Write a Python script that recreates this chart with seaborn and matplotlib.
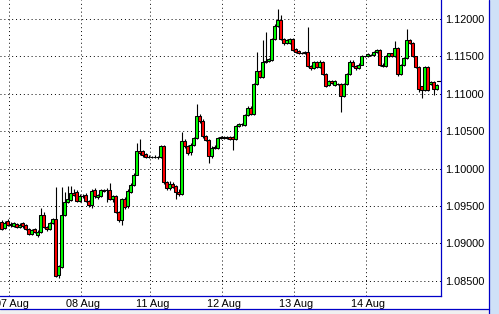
import numpy as np
import pandas as pd
import seaborn as sns
import matplotlib
matplotlib.use("Agg")
import matplotlib.pyplot as plt
from matplotlib.lines import Line2D
from matplotlib.patches import Rectangle

# ---------------- data (hourly candles) ----------------
opens = [
    1.0929, 1.0921, 1.0930, 1.0926, 1.0923, 1.0926, 1.0922, 1.0927, 1.0925, 1.0919,
    1.0913, 1.0919, 1.0911, 1.0915, 1.0938, 1.0922, 1.0919, 1.0927, 1.0933, 1.0858,
    1.0868, 1.0938, 1.0955, 1.0958, 1.0968, 1.0969, 1.0957, 1.0963, 1.0965, 1.0957,
    1.0951, 1.0971, 1.0962, 1.0963, 1.0971, 1.0971, 1.0971, 1.0959, 1.0963, 1.0942,
    1.0931, 1.0959, 1.0950, 1.0969, 1.0978, 1.0992, 1.1023, 1.1023, 1.1019, 1.1016,
    1.1016, 1.1015, 1.1016, 1.1015, 1.1030, 1.0982, 1.0974, 1.0979, 1.0977, 1.0969,
    1.0966, 1.1037, 1.1030, 1.1022, 1.1031, 1.1041, 1.1070, 1.1064, 1.1044, 1.1038,
    1.1017, 1.1028, 1.1028, 1.1041, 1.1042, 1.1041, 1.1042, 1.1042, 1.1039, 1.1057,
    1.1059, 1.1058, 1.1072, 1.1081, 1.1073, 1.1113, 1.1130, 1.1123, 1.1142, 1.1144,
    1.1145, 1.1173, 1.1190, 1.1198, 1.1173, 1.1168, 1.1168, 1.1173, 1.1160, 1.1157,
    1.1155, 1.1154, 1.1156, 1.1137, 1.1135, 1.1142, 1.1136, 1.1143, 1.1126, 1.1112,
    1.1117, 1.1112, 1.1113, 1.1113, 1.1097, 1.1113, 1.1126, 1.1143, 1.1137, 1.1134,
    1.1139, 1.1150, 1.1150, 1.1152, 1.1152, 1.1156, 1.1159, 1.1139, 1.1137, 1.1151,
    1.1154, 1.1150, 1.1161, 1.1126, 1.1139, 1.1148, 1.1172, 1.1168, 1.1150, 1.1136,
    1.1110, 1.1105, 1.1136, 1.1113, 1.1116, 1.1106,
]
highs = [
    1.0931, 1.0930, 1.0933, 1.0929, 1.0929, 1.0927, 1.0927, 1.0929, 1.0926, 1.0921,
    1.0919, 1.0921, 1.0918, 1.0947, 1.0942, 1.0923, 1.0929, 1.0934, 1.0975, 1.0871,
    1.0975, 1.0969, 1.0977, 1.0977, 1.0973, 1.0971, 1.0966, 1.0966, 1.0967, 1.0958,
    1.0973, 1.0974, 1.0966, 1.0973, 1.0973, 1.0974, 1.0981, 1.0965, 1.0965, 1.0943,
    1.0961, 1.0962, 1.0973, 1.0981, 1.0994, 1.1034, 1.1039, 1.1025, 1.1021, 1.1018,
    1.1017, 1.1018, 1.1017, 1.1031, 1.1031, 1.0983, 1.0983, 1.0982, 1.0978, 1.0973,
    1.1049, 1.1040, 1.1031, 1.1034, 1.1042, 1.1086, 1.1073, 1.1066, 1.1045, 1.1040,
    1.1030, 1.1031, 1.1042, 1.1044, 1.1043, 1.1044, 1.1044, 1.1044, 1.1058, 1.1061,
    1.1061, 1.1073, 1.1084, 1.1084, 1.1114, 1.1156, 1.1132, 1.1172, 1.1182, 1.1148,
    1.1175, 1.1193, 1.1213, 1.1205, 1.1175, 1.1173, 1.1175, 1.1175, 1.1161, 1.1159,
    1.1156, 1.1157, 1.1189, 1.1139, 1.1144, 1.1144, 1.1145, 1.1144, 1.1128, 1.1118,
    1.1118, 1.1118, 1.1114, 1.1114, 1.1114, 1.1128, 1.1145, 1.1145, 1.1139, 1.1141,
    1.1152, 1.1151, 1.1154, 1.1153, 1.1157, 1.1160, 1.1160, 1.1141, 1.1152, 1.1155,
    1.1155, 1.1170, 1.1162, 1.1140, 1.1149, 1.1186, 1.1173, 1.1169, 1.1151, 1.1137,
    1.1110, 1.1137, 1.1137, 1.1117, 1.1117, 1.1113,
]
lows = [
    1.0918, 1.0919, 1.0923, 1.0922, 1.0922, 1.0921, 1.0921, 1.0921, 1.0918, 1.0911,
    1.0911, 1.0914, 1.0909, 1.0914, 1.0921, 1.0917, 1.0918, 1.0926, 1.0855, 1.0854,
    1.0867, 1.0937, 1.0954, 1.0957, 1.0963, 1.0955, 1.0955, 1.0961, 1.0955, 1.0949,
    1.0948, 1.0961, 1.0959, 1.0962, 1.0969, 1.0956, 1.0958, 1.0955, 1.0941, 1.0929,
    1.0925, 1.0946, 1.0947, 1.0968, 1.0977, 1.0991, 1.1018, 1.1016, 1.1014, 1.1014,
    1.1014, 1.1014, 1.1013, 1.1014, 1.0980, 1.0971, 1.0971, 1.0974, 1.0959, 1.0963,
    1.0965, 1.1028, 1.1018, 1.1018, 1.1030, 1.1040, 1.1061, 1.1041, 1.1037, 1.1008,
    1.1014, 1.1026, 1.1026, 1.1040, 1.1040, 1.1040, 1.1038, 1.1025, 1.1038, 1.1056,
    1.1057, 1.1057, 1.1070, 1.1072, 1.1072, 1.1112, 1.1121, 1.1121, 1.1141, 1.1143,
    1.1144, 1.1172, 1.1189, 1.1172, 1.1165, 1.1167, 1.1167, 1.1157, 1.1155, 1.1153,
    1.1153, 1.1153, 1.1136, 1.1132, 1.1133, 1.1135, 1.1135, 1.1125, 1.1109, 1.1110,
    1.1113, 1.1110, 1.1112, 1.1076, 1.1096, 1.1112, 1.1125, 1.1136, 1.1132, 1.1133,
    1.1139, 1.1149, 1.1149, 1.1151, 1.1151, 1.1155, 1.1137, 1.1136, 1.1136, 1.1149,
    1.1149, 1.1149, 1.1124, 1.1125, 1.1137, 1.1147, 1.1167, 1.1149, 1.1135, 1.1103,
    1.1094, 1.1104, 1.1104, 1.1112, 1.1098, 1.1105,
]
closes = [
    1.0919, 1.0927, 1.0925, 1.0925, 1.0927, 1.0922, 1.0925, 1.0923, 1.0919, 1.0913,
    1.0918, 1.0915, 1.0915, 1.0938, 1.0922, 1.0919, 1.0927, 1.0933, 1.0856, 1.0870,
    1.0938, 1.0955, 1.0959, 1.0968, 1.0965, 1.0957, 1.0963, 1.0964, 1.0957, 1.0951,
    1.0970, 1.0963, 1.0965, 1.0971, 1.0970, 1.0971, 1.0959, 1.0963, 1.0942, 1.0931,
    1.0959, 1.0949, 1.0970, 1.0978, 1.0992, 1.1023, 1.1021, 1.1018, 1.1016, 1.1016,
    1.1015, 1.1016, 1.1015, 1.1030, 1.0982, 1.0974, 1.0979, 1.0976, 1.0969, 1.0966,
    1.1037, 1.1030, 1.1021, 1.1031, 1.1041, 1.1070, 1.1063, 1.1044, 1.1038, 1.1017,
    1.1028, 1.1029, 1.1041, 1.1042, 1.1041, 1.1042, 1.1040, 1.1039, 1.1057, 1.1060,
    1.1060, 1.1072, 1.1081, 1.1073, 1.1113, 1.1130, 1.1123, 1.1142, 1.1144, 1.1146,
    1.1173, 1.1191, 1.1198, 1.1173, 1.1168, 1.1172, 1.1173, 1.1159, 1.1156, 1.1154,
    1.1155, 1.1156, 1.1137, 1.1134, 1.1142, 1.1136, 1.1143, 1.1126, 1.1110, 1.1117,
    1.1115, 1.1117, 1.1113, 1.1097, 1.1113, 1.1126, 1.1143, 1.1137, 1.1134, 1.1139,
    1.1150, 1.1150, 1.1153, 1.1152, 1.1156, 1.1159, 1.1139, 1.1137, 1.1151, 1.1154,
    1.1150, 1.1161, 1.1126, 1.1139, 1.1148, 1.1172, 1.1168, 1.1150, 1.1136, 1.1107,
    1.1105, 1.1136, 1.1105, 1.1116, 1.1106, 1.1112,
]
day_start_bars = [3, 27, 50, 74, 98, 122]
day_labels = ["07 Aug", "08 Aug", "11 Aug", "12 Aug", "13 Aug", "14 Aug"]
price_ticks = [1.085, 1.090, 1.095, 1.100, 1.105, 1.110, 1.115, 1.120]
bid_price = 1.1117

# ---------------- figure ----------------
sns.set_theme(style="white")
plt.rcParams["font.family"] = ["Liberation Sans", "DejaVu Sans"]

df = pd.DataFrame({"open": opens, "high": highs, "low": lows, "close": closes})
df["bar"] = np.arange(len(df))
df["bottom"] = df[["open", "close"]].min(axis=1)
df["height"] = (df["close"] - df["open"]).abs()
df["color"] = np.where(df["close"] > df["open"], "#00ff00",
                       np.where(df["close"] < df["open"], "#ff0000", "black"))

W, H = 499, 314
fig = plt.figure(figsize=(W / 100, H / 100), dpi=100)
fig.patch.set_facecolor("white")
ax_right_px, ax_bottom_px = 441.3, 296.3
ax = fig.add_axes([0, 1 - ax_bottom_px / H, ax_right_px / W, ax_bottom_px / H])
ax.set_facecolor("white")

# wicks
ax.vlines(df["bar"], df["low"], df["high"], color="black", lw=0.8, zorder=2)
# bodies
ax.bar(df["bar"], df["height"], bottom=df["bottom"], width=0.9,
       color=df["color"], edgecolor="black", linewidth=0.75, zorder=3)

# bid line at right edge
ax.plot([145.3, 146.7], [bid_price, bid_price], color="black", lw=0.8, zorder=4)

# limits
ax.set_xlim(-0.5, 146.6)
ax.set_ylim(1.08293, 1.12254)

# grid
grid_style = dict(color="black", linestyle=(0, (1, 3)), lw=0.7, zorder=1)
for p in price_ticks:
    ax.axhline(p, **grid_style)
for b in day_start_bars:
    ax.axvline(b - 0.5, **grid_style)

# ticks
ax.set_yticks(price_ticks)
ax.set_yticklabels([f"{p:.5f}" for p in price_ticks])
ax.yaxis.tick_right()
ax.set_xticks(np.array(day_start_bars) + 0.33)
ax.set_xticklabels(day_labels)
ax.tick_params(axis="y", length=0, pad=3, labelsize=7.8, colors="black")
ax.tick_params(axis="x", length=0, pad=1.6, labelsize=7.8, colors="black")

for s in ["top", "left"]:
    ax.spines[s].set_visible(False)
for s in ["right", "bottom"]:
    ax.spines[s].set_color("#0000c8")
    ax.spines[s].set_linewidth(0.9)

# window frame decorations
fig.add_artist(Rectangle((0, 0), 1, (H - 308.5) / H, transform=fig.transFigure,
                         facecolor="#f0f0f0", edgecolor="none", zorder=0))
fig.add_artist(Rectangle((488.5 / W, 0), 1 - 488.5 / W, 1, transform=fig.transFigure,
                         facecolor="#cfe1f7", edgecolor="none", zorder=0))
fig.add_artist(Line2D([0, 488.5 / W], [1 - 308.5 / H] * 2, transform=fig.transFigure,
                      color="#0000c8", lw=0.9))
fig.add_artist(Line2D([488.5 / W] * 2, [0, 1], transform=fig.transFigure,
                      color="#0000c8", lw=0.9))

fig.savefig("out.png", dpi=100)
